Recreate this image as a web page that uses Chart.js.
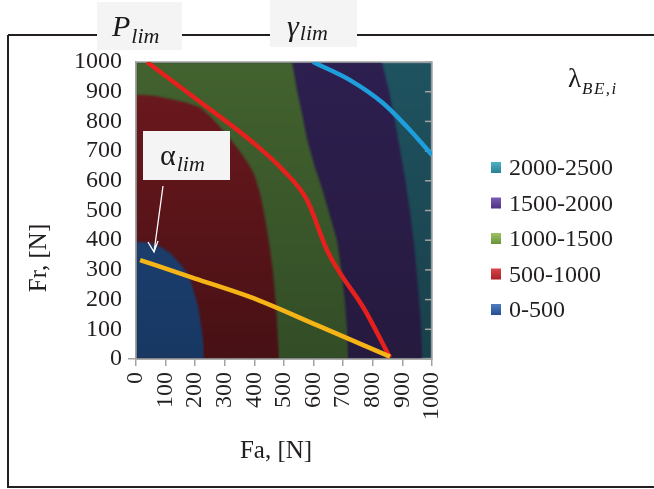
<!DOCTYPE html>
<html>
<head>
<meta charset="utf-8">
<script src="https://cdn.jsdelivr.net/npm/chart.js@4/dist/chart.umd.min.js"></script>
<style>
  html, body { margin: 0; padding: 0; background: #fff; }
  canvas { display: block; }
</style>
</head>
<body>
<canvas id="c" width="654" height="489"></canvas>
<script>
// Bearing life bands λ_BE,i over axial load Fa and radial load Fr (both in N).
const bandLabels = ['0-500', '500-1000', '1000-1500', '1500-2000', '2000-2500'];

// Upper edge of each band as [Fa, Fr]; each band is filled down to Fr = 0.
const edge2500 = [[0, 1000], [1000, 1000]];
const edge2000 = [[0, 1000], [831, 1000], [855, 900], [875, 800], [893, 700], [910, 600], [925, 500],
                  [940, 380], [952, 250], [962, 120], [968, 0]];
const edge1500 = [[0, 1000], [527, 1000], [545, 900], [562, 820], [578, 740], [603, 650], [630, 570],
                  [656, 480], [679, 400], [694, 300], [705, 200], [713, 100], [718, 0]];
const edge1000 = [[0, 890], [60, 886], [120, 875], [170, 864], [216, 848], [250, 818], [284, 781],
                  [318, 742], [350, 700], [378, 660], [400, 620], [420, 555], [435, 480], [450, 390],
                  [463, 290], [473, 180], [480, 64], [484, 0]];
const edge500  = [[0, 395], [40, 392], [80, 380], [115, 357], [150, 320], [172, 290], [185, 260],
                  [195, 230], [210, 175], [222, 100], [228, 50], [230, 0]];

// Limit curves as [Fa, Fr]
const pLim     = [[37, 1000], [199, 879], [400, 725], [497, 636], [578, 535], [645, 367], [689, 290], [767, 175], [858, 5]];
const gammaLim = [[598, 1000], [723, 939], [834, 862], [916, 781], [1000, 687]];
const alphaLim = [[14, 333], [200, 271], [385, 209], [611, 114], [858, 8]];

const SERIF = "'Liberation Serif', 'Times New Roman', serif";

const toPts = a => a.map(([x, y]) => ({ x, y }));

function vgrad(top, bottom) {
  return (c) => {
    const chart = c.chart;
    const a = chart.chartArea;
    if (!a) return top;
    const g = chart.ctx.createLinearGradient(0, a.top, 0, a.bottom);
    g.addColorStop(0, top);
    g.addColorStop(1, bottom);
    return g;
  };
}

function band(label, edge, top, bottom, order) {
  return {
    label, data: toPts(edge), showLine: true, fill: 'origin',
    backgroundColor: vgrad(top, bottom), borderColor: 'rgba(0,0,0,0)', borderWidth: 1,
    pointRadius: 0, tension: 0, order
  };
}

function limit(label, pts, color, order) {
  return {
    label, data: toPts(pts), showLine: true, fill: false,
    borderColor: color, borderWidth: 4.5, pointRadius: 0,
    cubicInterpolationMode: 'monotone', borderCapStyle: 'butt', order
  };
}

const legendColors = {
  '2000-2500': ['#4fb0c4', '#2a8096'],
  '1500-2000': ['#7c5cb6', '#4d3184'],
  '1000-1500': ['#9cc466', '#6b9138'],
  '500-1000':  ['#d9464c', '#aa1f27'],
  '0-500':     ['#4d7dc0', '#244f90']
};

function drawMath(ctx, x, y, main, sub, mainSize, subSize, drop, italicMain, spacing) {
  ctx.save();
  ctx.fillStyle = '#1a1a1a';
  ctx.textBaseline = 'alphabetic';
  ctx.textAlign = 'left';
  ctx.font = (italicMain ? 'italic ' : '') + mainSize + 'px ' + SERIF;
  ctx.fillText(main, x, y);
  const w = ctx.measureText(main).width;
  ctx.font = 'italic ' + subSize + 'px ' + SERIF;
  if (spacing) ctx.letterSpacing = spacing;
  ctx.fillText(sub, x + w + 1, y + drop);
  ctx.restore();
}

const decor = {
  id: 'decor',
  beforeDatasetsDraw(chart) {
    // soft transitions between the filled bands
    chart.ctx.filter = 'blur(1.2px)';
  },
  afterDatasetDraw(chart, args) {
    // plot border and inner right-hand ticks, beneath the limit curves
    if (chart.data.datasets[args.index].label !== '0-500') return;
    const { ctx, chartArea: a, scales } = chart;
    ctx.filter = 'none';
    ctx.save();
    ctx.strokeStyle = '#a3a3a3';
    ctx.lineWidth = 1.5;
    ctx.strokeRect(a.left, a.top, a.right - a.left, a.bottom - a.top);
    scales.y.ticks.forEach(t => {
      const y = scales.y.getPixelForValue(t.value);
      ctx.beginPath();
      ctx.moveTo(a.right - 7, y);
      ctx.lineTo(a.right, y);
      ctx.stroke();
    });
    ctx.restore();
  },
  afterDraw(chart) {
    const { ctx } = chart;
    ctx.filter = 'none';
    ctx.save();

    // outer frame
    ctx.strokeStyle = '#231f20';
    ctx.lineWidth = 2;
    ctx.beginPath();
    ctx.moveTo(8, 35); ctx.lineTo(654, 35);
    ctx.moveTo(8, 35); ctx.lineTo(8, 487); ctx.lineTo(654, 487);
    ctx.stroke();

    // label boxes
    ctx.fillStyle = '#f4f4f4';
    ctx.fillRect(97, 2, 85, 48);
    ctx.fillRect(270, 0, 87, 47);
    ctx.fillRect(143, 131, 87, 49);
    drawMath(ctx, 112, 36, 'P', 'lim', 30, 22, 7, true);
    drawMath(ctx, 287, 36, 'γ', 'lim', 30, 22, 4, true);
    drawMath(ctx, 160, 165, 'α', 'lim', 30, 22, 6, false);

    // arrow from the α label to its curve
    ctx.strokeStyle = '#ffffff';
    ctx.lineWidth = 1.3;
    ctx.beginPath();
    ctx.moveTo(163, 186); ctx.lineTo(154, 252);
    ctx.moveTo(148, 242); ctx.lineTo(154, 252); ctx.lineTo(158, 241);
    ctx.stroke();

    // band legend title
    drawMath(ctx, 568, 87, 'λ', 'BE,i', 27, 17, 7, false, '1.5px');

    // legend
    ctx.font = '24px ' + SERIF;
    ctx.textBaseline = 'alphabetic';
    ctx.textAlign = 'left';
    const order = bandLabels.slice().reverse();
    order.forEach((lab, i) => {
      const base = 175 + i * 35.5;
      const [c1, c2] = legendColors[lab];
      const g = ctx.createLinearGradient(0, base - 13, 0, base - 2);
      g.addColorStop(0, c1);
      g.addColorStop(1, c2);
      ctx.fillStyle = g;
      ctx.fillRect(491, base - 13, 10, 11);
      ctx.fillStyle = '#231f20';
      ctx.fillText(lab, 509, base);
    });

    // axis titles
    ctx.fillStyle = '#231f20';
    ctx.font = '25px ' + SERIF;
    ctx.textAlign = 'center';
    ctx.fillText('Fa, [N]', 276, 458);
    ctx.save();
    ctx.translate(46, 258);
    ctx.rotate(-Math.PI / 2);
    ctx.fillText('Fr, [N]', 0, 0);
    ctx.restore();

    ctx.restore();
  }
};

new Chart(document.getElementById('c'), {
  type: 'scatter',
  data: {
    datasets: [
      limit('αlim', alphaLim, '#f6b417', 0),
      limit('Plim', pLim, '#e6201c', 1),
      limit('γlim', gammaLim, '#1e9fdc', 1),
      band('0-500', edge500, '#1f467c', '#183863', 2),
      band('500-1000', edge1000, '#6e191e', '#471115', 3),
      band('1000-1500', edge1500, '#42622e', '#334d27', 4),
      band('1500-2000', edge2000, '#2d1f4f', '#261a3f', 5),
      band('2000-2500', edge2500, '#1f5360', '#19404a', 6)
    ]
  },
  options: {
    responsive: false,
    animation: false,
    devicePixelRatio: 1,
    layout: { padding: { left: 0, right: 222, top: 62, bottom: 0 } },
    plugins: { legend: { display: false }, tooltip: { enabled: false } },
    scales: {
      x: {
        type: 'linear', min: 0, max: 1000,
        afterFit: s => { s.height = 130; },
        ticks: {
          stepSize: 100, autoSkip: false, minRotation: 90, maxRotation: 90, padding: 6,
          callback: v => String(v),
          color: '#231f20', font: { family: SERIF, size: 24 }
        },
        grid: { drawOnChartArea: false, drawTicks: true, tickLength: 7, color: '#a3a3a3', lineWidth: 1.5 },
        border: { display: true, color: '#a3a3a3', width: 1.5 }
      },
      y: {
        type: 'linear', min: 0, max: 1000,
        afterFit: s => { s.width = 136; },
        ticks: {
          stepSize: 100, autoSkip: false, padding: 6,
          callback: v => String(v),
          color: '#231f20', font: { family: SERIF, size: 24 }
        },
        grid: {
          drawOnChartArea: false, drawTicks: true, tickLength: 8, lineWidth: 1.5,
          color: c => (c.tick && c.tick.value === 0) ? '#a3a3a3' : 'rgba(0,0,0,0)'
        },
        border: { display: true, color: '#a3a3a3', width: 1.5 }
      }
    }
  },
  plugins: [decor]
});
</script>
</body>
</html>
